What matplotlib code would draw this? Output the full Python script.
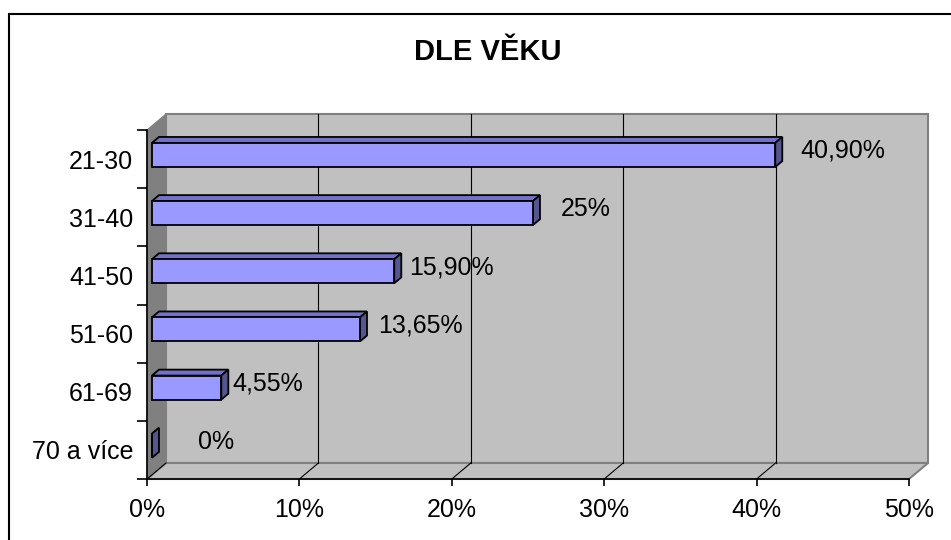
import matplotlib.pyplot as plt
import matplotlib.patches as mpatches
from matplotlib.patches import Polygon
import numpy as np

plt.rcParams['font.family'] = ['Liberation Sans', 'DejaVu Sans']

# data
categories = ['21-30', '31-40', '41-50', '51-60', '61-69', '70 a více']
values = [40.90, 25.0, 15.90, 13.65, 4.55, 0.0]
value_labels = ['40,90%', '25%', '15,90%', '13,65%', '4,55%', '0%']
xticks = [0, 10, 20, 30, 40, 50]
xtick_labels = ['0%', '10%', '20%', '30%', '40%', '50%']

# fake 3d look: depth shift of the back wall in data units
DX = 19 / 15.24      # % units
DY = 16 / 58.17      # category units
d0, d1 = 0.26, 0.63  # bar front / back depth
bh = 0.414           # bar thickness

front_c = '#9999FF'
top_c = '#7272CC'
side_c = '#55558F'
wall_c = '#C0C0C0'
side_wall_c = '#808080'

fig = plt.figure(figsize=(9.51, 5.40), dpi=100)
ax = fig.add_axes([147 / 951, 61 / 540, 762 / 951, 349 / 540])
ax.set_xlim(0, 50)
ax.set_ylim(-0.5, 5.5)
ax.patch.set_visible(False)

def P(x, y, d):
    return (x + d * DX, y + d * DY)

y0, y1 = -0.5, 5.5
# back wall
ax.add_patch(Polygon([P(0, y0, 1), P(50, y0, 1), P(50, y1, 1), P(0, y1, 1)],
                     closed=True, fc=wall_c, ec=side_wall_c, lw=1.5, clip_on=False, zorder=1))
# left wall
ax.add_patch(Polygon([P(0, y0, 0), P(0, y0, 1), P(0, y1, 1), P(0, y1, 0)],
                     closed=True, fc=side_wall_c, ec=side_wall_c, lw=0.8, clip_on=False, zorder=1))
# floor
ax.add_patch(Polygon([P(0, y0, 0), P(0, y0, 1), P(50, y0, 1), P(50, y0, 0)],
                     closed=True, fc=wall_c, ec=side_wall_c, lw=1.5, clip_on=False, zorder=1))

# grid lines on back wall + floor
for t in xticks[1:-1]:
    ax.plot(*zip(P(t, y0, 1), P(t, y1, 1)), color='black', lw=0.8, zorder=2, clip_on=False)
for t in xticks[:-1]:
    ax.plot(*zip(P(t, y0, 0), P(t, y0, 1)), color='black', lw=0.8, zorder=2, clip_on=False)

# bars
ypos = np.arange(len(categories))[::-1]
label_pad = [18, 21, 8, 11, 4, 39]
for yc, v, lab, pad in zip(ypos, values, value_labels, label_pad):
    lo, hi = yc - bh / 2, yc + bh / 2
    top = [P(0, hi, d0), P(v, hi, d0), P(v, hi, d1), P(0, hi, d1)]
    side = [P(v, lo, d0), P(v, lo, d1), P(v, hi, d1), P(v, hi, d0)]
    front = [P(0, lo, d0), P(v, lo, d0), P(v, hi, d0), P(0, hi, d0)]
    for poly, c in ((top, top_c), (side, side_c), (front, front_c)):
        ax.add_patch(Polygon(poly, closed=True, fc=c, ec='black', lw=1.3,
                             joinstyle='miter', clip_on=False, zorder=3))
    anchor = (P(v, yc, d1)[0], P(v, yc, d0)[1])
    ax.annotate(lab, xy=anchor, xytext=(pad, 4), textcoords='offset pixels',
                ha='left', va='center', fontsize=18, zorder=4)

# axes lines and ticks
for s in ['top', 'right']:
    ax.spines[s].set_visible(False)
for s in ['left', 'bottom']:
    ax.spines[s].set_color('black')
    ax.spines[s].set_linewidth(1.2)
    ax.spines[s].set_zorder(5)

ax.set_xticks(xticks)
ax.set_xticklabels(xtick_labels, fontsize=18)
ax.tick_params(axis='x', length=5, width=1.2, pad=9, direction='out')

ax.set_yticks(ypos)
ax.set_yticklabels(categories, fontsize=18)
ax.set_yticks(np.arange(-0.5, 6, 1), minor=True)
ax.tick_params(axis='y', which='major', length=0, pad=10)
ax.tick_params(axis='y', which='minor', length=7, width=1.2, direction='out')

fig.text(488 / 951, 1 - 52 / 540, 'DLE VĚKU', ha='center', va='center',
         fontsize=21, fontweight='bold')

# chart area border
fig.patches.append(mpatches.Rectangle((9 / 951, -0.1), 1.2, 0.1 + 526 / 540,
                                      transform=fig.transFigure, fill=False,
                                      ec='black', lw=1.5, zorder=0))

fig.savefig('out.png', dpi=100)
